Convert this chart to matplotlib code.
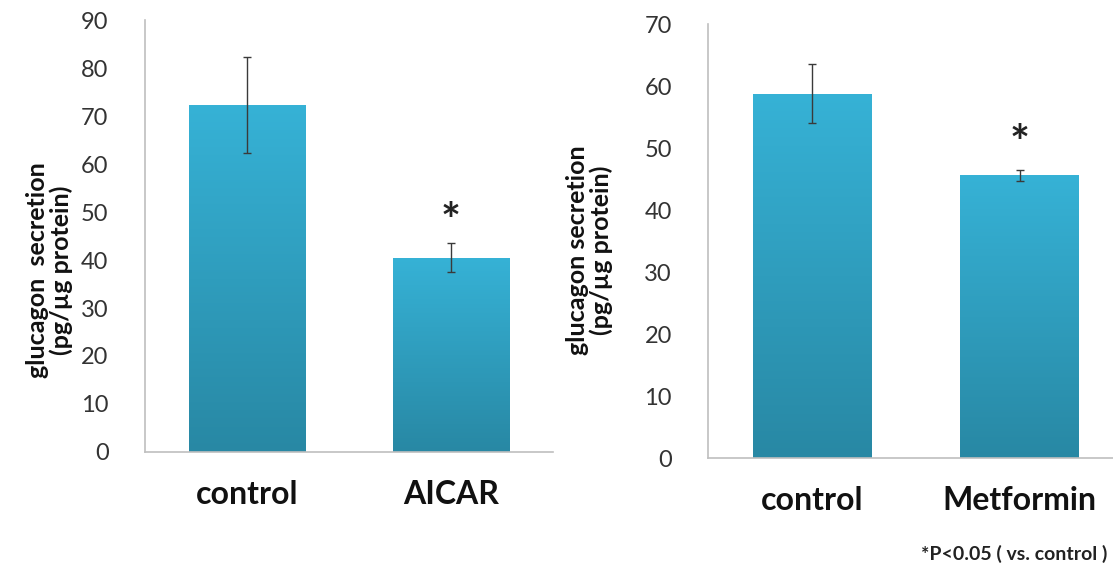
import numpy as np
import matplotlib
matplotlib.use("Agg")
import matplotlib.pyplot as plt

plt.rcParams['font.family'] = ['Lato', 'DejaVu Sans']

# Panel A: AICAR
cats_a = ["control", "AICAR"]
vals_a = [72.3, 40.5]
errs_a = [10.0, 3.0]

# Panel B: Metformin
cats_b = ["control", "Metformin"]
vals_b = [58.8, 45.6]
errs_b = [4.7, 0.9]

ylabel = "glucagon  secretion\n(pg/\u00b5g protein)"
ylabel_b = "glucagon secretion\n(pg/\u00b5g protein)"
footnote = "*P<0.05 ( vs. control )"

TOP = "#36b2d6"
BOTTOM = "#2888a4"
AXIS = "#bfbfbf"
TICK = "#333333"

grad = np.linspace(0, 1, 256).reshape(-1, 1)
cmap = matplotlib.colors.LinearSegmentedColormap.from_list("g", [BOTTOM, TOP])


def draw_panel(ax, cats, vals, errs, ymax, star_y, ylab, xlim_hi, lab_xy):
    x = np.arange(len(cats))
    bars = ax.bar(x, vals, width=0.57, color=TOP, zorder=1)
    for b in bars:
        x0, y0 = b.get_x(), b.get_y()
        w, h = b.get_width(), b.get_height()
        im = ax.imshow(grad, cmap=cmap, origin="lower", aspect="auto",
                       extent=[x0, x0 + w, y0, y0 + h], zorder=1)
        im.set_clip_path(b)
        b.set_facecolor("none")
    ax.errorbar(x, vals, yerr=errs, fmt="none", ecolor="#3a3a3a",
                elinewidth=1, capsize=3, capthick=1, zorder=3)
    ax.text(x[1], star_y, "*", ha="center", va="center", fontsize=34,
            color="#222222", fontweight="bold")
    ax.set_xlim(-0.5, xlim_hi)
    ax.set_ylim(0, ymax)
    ax.set_yticks(np.arange(0, ymax + 1, 10))
    ax.set_xticks(x)
    ax.set_xticklabels(cats, fontsize=23, fontweight="bold", color="#111111")
    ax.tick_params(axis="y", length=0, labelsize=17, labelcolor=TICK, pad=26)
    ax.tick_params(axis="x", length=0, pad=20)
    for s in ["top", "right"]:
        ax.spines[s].set_visible(False)
    for s in ["left", "bottom"]:
        ax.spines[s].set_color(AXIS)
        ax.spines[s].set_linewidth(1.2)
    ax.set_ylabel(ylab, fontsize=18, fontweight="bold", color="#111111",
                  linespacing=1.0)
    ax.yaxis.set_label_coords(*lab_xy)


fig = plt.figure(figsize=(11.13, 5.75), dpi=100)
ax1 = fig.add_axes([0.130, 0.214, 0.367, 0.751])
ax2 = fig.add_axes([0.636, 0.203, 0.364, 0.755])

draw_panel(ax1, cats_a, vals_a, errs_a, 90, 47.8, ylabel, 1.5, (-0.176, 0.42))
draw_panel(ax2, cats_b, vals_b, errs_b, 70, 50.5, ylabel_b, 1.45, (-0.235, 0.48))

fig.text(0.995, 0.036, footnote, ha="right", va="center", fontsize=14,
         fontweight="bold", color="#222222")

fig.savefig("out.png", dpi=100)
